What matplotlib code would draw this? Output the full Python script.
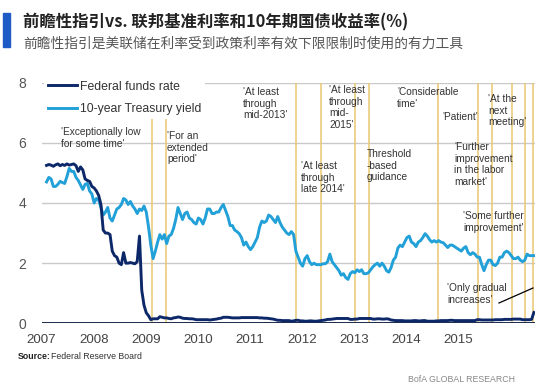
import numpy as np
import matplotlib.pyplot as plt
from matplotlib.patches import Rectangle

#############################################################################
# Data: semi-monthly readings, Jan 2007 - Dec 2015 (one row per year)

treasury_10y = [
    4.70, 4.85, 4.80, 4.55, 4.55, 4.62, 4.72, 4.68, 4.65, 4.88, 5.15, 5.05,
    5.05, 4.85, 4.75, 4.60, 4.45, 4.62, 4.65, 4.40, 4.30, 4.00, 4.15, 4.10,
    3.85, 3.60, 3.70, 3.85, 3.50, 3.40, 3.60, 3.80, 3.85, 3.95, 4.15, 4.10,
    3.95, 4.05, 3.90, 3.80, 3.65, 3.80, 3.75, 3.90, 3.70, 3.20, 2.60, 2.15,
    2.40, 2.70, 2.95, 2.80, 2.95, 2.65, 2.90, 2.95, 3.15, 3.45, 3.85, 3.65,
    3.45, 3.65, 3.70, 3.50, 3.45, 3.35, 3.30, 3.50, 3.45, 3.30, 3.50, 3.80,
    3.80, 3.65, 3.65, 3.70, 3.70, 3.85, 3.95, 3.75, 3.55, 3.25, 3.25, 3.10,
    3.05, 2.98, 2.85, 2.60, 2.70, 2.55, 2.45, 2.55, 2.70, 2.85, 3.20, 3.40,
    3.35, 3.40, 3.60, 3.55, 3.45, 3.35, 3.55, 3.35, 3.20, 3.10, 3.00, 2.95,
    3.05, 2.95, 2.40, 2.20, 2.00, 1.90, 2.15, 2.25, 2.05, 1.95, 2.00, 1.95,
    1.95, 1.95, 1.98, 1.98, 2.05, 2.30, 2.05, 1.95, 1.85, 1.75, 1.60, 1.65,
    1.52, 1.46, 1.65, 1.72, 1.68, 1.78, 1.72, 1.78, 1.65, 1.65, 1.68, 1.78,
    1.88, 1.95, 2.00, 1.90, 2.00, 1.90, 1.75, 1.70, 1.85, 2.10, 2.20, 2.50,
    2.60, 2.55, 2.70, 2.85, 2.90, 2.70, 2.65, 2.55, 2.70, 2.75, 2.85, 2.98,
    2.90, 2.78, 2.70, 2.75, 2.70, 2.75, 2.70, 2.68, 2.60, 2.52, 2.60, 2.60,
    2.55, 2.50, 2.45, 2.40, 2.50, 2.55, 2.35, 2.28, 2.35, 2.30, 2.20, 2.20,
    1.95, 1.75, 1.95, 2.10, 2.10, 1.95, 1.92, 2.00, 2.20, 2.20, 2.35, 2.40,
    2.35, 2.25, 2.15, 2.15, 2.20, 2.10, 2.05, 2.10, 2.30, 2.25, 2.25, 2.25,
]

fed_funds = [
    5.25, 5.28, 5.26, 5.22, 5.27, 5.30, 5.24, 5.28, 5.25, 5.30, 5.26, 5.28,
    5.30, 5.24, 5.05, 5.20, 5.10, 4.80, 4.75, 4.72, 4.55, 4.50, 4.40, 4.25,
    3.95, 3.10, 3.00, 3.00, 2.95, 2.40, 2.25, 2.20, 2.00, 1.95, 2.35, 2.00,
    2.00, 2.02, 2.00, 1.98, 2.05, 2.90, 1.10, 0.60, 0.35, 0.25, 0.12, 0.15,
    0.15, 0.15, 0.22, 0.20, 0.18, 0.18, 0.16, 0.15, 0.18, 0.19, 0.21, 0.20,
    0.17, 0.16, 0.16, 0.15, 0.15, 0.14, 0.12, 0.12, 0.12, 0.12, 0.12, 0.12,
    0.11, 0.12, 0.13, 0.14, 0.16, 0.17, 0.20, 0.20, 0.20, 0.19, 0.18, 0.18,
    0.18, 0.18, 0.19, 0.19, 0.19, 0.19, 0.19, 0.19, 0.19, 0.19, 0.18, 0.18,
    0.17, 0.17, 0.16, 0.15, 0.14, 0.12, 0.10, 0.10, 0.09, 0.09, 0.09, 0.09,
    0.07, 0.08, 0.10, 0.10, 0.08, 0.08, 0.07, 0.07, 0.08, 0.08, 0.07, 0.07,
    0.08, 0.09, 0.10, 0.11, 0.13, 0.13, 0.14, 0.15, 0.16, 0.16, 0.16, 0.16,
    0.16, 0.16, 0.13, 0.13, 0.14, 0.14, 0.16, 0.16, 0.16, 0.16, 0.16, 0.16,
    0.14, 0.14, 0.15, 0.15, 0.14, 0.14, 0.15, 0.14, 0.11, 0.10, 0.09, 0.09,
    0.09, 0.09, 0.08, 0.08, 0.08, 0.08, 0.09, 0.09, 0.08, 0.08, 0.09, 0.09,
    0.07, 0.07, 0.07, 0.07, 0.08, 0.08, 0.09, 0.09, 0.09, 0.09, 0.10, 0.10,
    0.09, 0.09, 0.09, 0.09, 0.09, 0.09, 0.09, 0.09, 0.09, 0.09, 0.12, 0.12,
    0.11, 0.11, 0.11, 0.11, 0.11, 0.11, 0.12, 0.12, 0.12, 0.12, 0.13, 0.13,
    0.13, 0.13, 0.14, 0.14, 0.14, 0.14, 0.12, 0.12, 0.12, 0.12, 0.13, 0.36,
]

# FOMC forward guidance statements (decimal year) and their labels
guidance_dates = [2008.96, 2009.21, 2011.60, 2012.07, 2012.70, 2012.95,
                  2014.21, 2014.96, 2015.21, 2015.57, 2015.82, 2015.96]
guidance_labels = [
    "'Exceptionally low\nfor some time'",
    "'For an\nextended\nperiod'",
    "'At least\nthrough\nmid-2013'",
    "'At least\nthrough\nlate 2014'",
    "'At least\nthrough\nmid-\n2015'",
    "Threshold\n-based\nguidance",
    "'Considerable\ntime'",
    "'Patient'",
    "'Further\nimprovement\nin the labor\nmarket'",
    "'Some further\nimprovement'",
    "'At the\nnext\nmeeting'",
    "'Only gradual\nincreases'",
]
# label top-left corners in pixels of the 550x386 canvas
label_px = [(61, 127), (167, 131), (243, 87), (301, 161), (329, 85),
            (367, 149), (397, 87), (442, 112), (454, 142), (463, 211),
            (488, 94), (447, 283)]

year_labels = ["2007", "2008", "2009", "2010", "2011",
               "2012", "2013", "2014", "2015"]

dates = 2007 + (np.arange(len(treasury_10y)) + 0.5) / 24

NAVY = "#0c2868"
CYAN = "#22a0d8"
GOLD = "#e9c873"
NARROW = ["Liberation Sans Narrow", "Liberation Sans", "DejaVu Sans"]
CJK = ["Noto Sans CJK SC", "DejaVu Sans"]

W, H = 550, 386

#############################################################################
fig = plt.figure(figsize=(W / 100, H / 100), dpi=100)
ax = fig.add_axes([41.6 / W, 1 - 323.3 / H, (535 - 41.6) / W, (323.3 - 82.7) / H])

for y in [2, 4, 6, 8]:
    ax.axhline(y, color="#c9c9c9", lw=1.0, zorder=1)
for d in guidance_dates:
    ax.axvline(d, color=GOLD, lw=1.1, zorder=2)

ax.plot(dates, fed_funds, color=NAVY, lw=2.1, label="Federal funds rate",
        zorder=4)
ax.plot(dates, treasury_10y, color=CYAN, lw=2.1, label="10-year Treasury yield",
        zorder=3)
ax.axhline(0, color="#1c2a4a", lw=1.4, zorder=3)

ax.set_xlim(2007, 2016)
ax.set_ylim(0, 8)
for s in ax.spines.values():
    s.set_visible(False)

ax.set_yticks([0, 2, 4, 6, 8])
ax.set_yticklabels(["0", "2", "4", "6", "8"], family=NARROW, fontsize=10,
                   color="#555555")
# year labels sit slightly left of the year starts in the source chart
ax.set_xticks([2007 - 0.07 + 0.958 * i for i in range(len(year_labels))])
ax.set_xticklabels(year_labels, family=NARROW, fontsize=9.6, color="#444444")
ax.tick_params(axis="y", length=0, pad=11)
ax.tick_params(axis="x", length=0, pad=8)

leg = ax.legend(loc="upper left", bbox_to_anchor=(44 / W, 1 - 77 / H),
                bbox_transform=fig.transFigure, frameon=True, facecolor="white",
                edgecolor="none", framealpha=1, fancybox=False,
                prop={"family": NARROW, "size": 8.8}, handlelength=2.4,
                handletextpad=0.25, labelspacing=0.85, borderpad=0.3,
                borderaxespad=0)
for t in leg.get_texts():
    t.set_color("#333333")
leg.set_zorder(6)

for text, (x, y) in zip(guidance_labels, label_px):
    fig.text(x / W, 1 - y / H, text, family=NARROW, fontsize=7.3,
             color="#333333", va="top", ha="left", linespacing=1.2)

# pointer for the last statement
fig.add_artist(plt.Line2D([499 / W, 533 / W], [1 - 303 / H, 1 - 288 / H],
                          color="black", lw=0.9))

#############################################################################
# Header and footer
fig.patches.append(Rectangle((3 / W, 1 - 47 / H), 7 / W, 34 / H,
                             transform=fig.transFigure, color="#1f5bc6"))
fig.text(23 / W, 1 - 22 / H, "前瞻性指引vs. 联邦基准利率和10年期国债收益率(%)",
         family=CJK, fontsize=11.8, fontweight="bold", color="#222222",
         va="center")
fig.text(23 / W, 1 - 44 / H, "前瞻性指引是美联储在利率受到政策利率有效下限限制时使用的有力工具",
         family=CJK, fontsize=9.9, color="#555555", va="center")
fig.text(18 / W, 1 - 359 / H, "Source:", family=NARROW, fontsize=6.3,
         fontweight="bold", color="#222222", va="baseline")
fig.text(51 / W, 1 - 359 / H, "Federal Reserve Board", family=NARROW,
         fontsize=6.3, color="#333333", va="baseline")
fig.text(515 / W, 1 - 380 / H, "BofA GLOBAL RESEARCH", family=NARROW,
         fontsize=6.3, color="#888888", va="center", ha="right")

fig.savefig("out.png", dpi=100)
